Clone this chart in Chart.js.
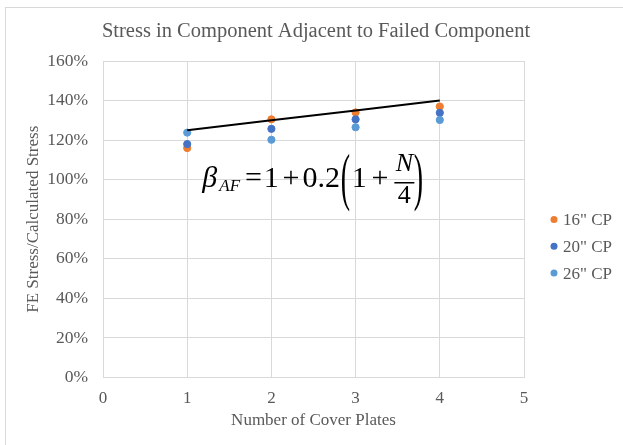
<!DOCTYPE html>
<html lang="en">

<head>
    <meta charset="UTF-8">
    <title>Stress in Component Adjacent to Failed Component</title>
    <style>
        body {
            margin: 0;
            padding: 0;
            background-color: #fff;
        }

        #wrap {
            width: 623px;
            height: 445px;
        }
    </style>
</head>

<body>
    <div id="wrap">
        <canvas id="stressChart" width="623" height="445"></canvas>
    </div>

    <script src="https://cdn.jsdelivr.net/npm/chart.js"></script>
    <script>
        // Datos
        const chartTitle = 'Stress in Component Adjacent to Failed Component';
        const coverPlates = [1, 2, 3, 4];
        const seriesNames = ['16" CP', '20" CP', '26" CP'];
        const cp16 = [116, 130.5, 134, 137];
        const cp20 = [118, 125.7, 130.5, 133.8];
        const cp26 = [123.8, 120.2, 126.5, 130.2];
        const equationLine = [125, 130, 135, 140];
        const xTicks = [0, 1, 2, 3, 4, 5];
        const yTicks = [0, 20, 40, 60, 80, 100, 120, 140, 160];

        const colors = ['#ED7D31', '#4472C4', '#5B9BD5'];
        const grey = '#595959';
        const serif = '"Liberation Serif", "Times New Roman", serif';

        const toPoints = (vals) => coverPlates.map((n, i) => ({ x: n, y: vals[i] }));

        // Fondo, borde exterior, titulo, leyenda y ecuacion
        const extras = {
            id: 'extras',
            beforeDraw(chart) {
                const c = chart.ctx;
                c.save();
                c.fillStyle = '#fff';
                c.fillRect(0, 0, chart.width, chart.height);
                c.strokeStyle = '#D9D9D9';
                c.lineWidth = 1;
                c.strokeRect(5.5, 7.5, chart.width + 20, chart.height + 20);
                c.restore();
            },
            afterDraw(chart) {
                const c = chart.ctx;
                const area = chart.chartArea;
                c.save();

                // titulo (centrado sobre todo el grafico)
                c.fillStyle = grey;
                c.font = '20.5px ' + serif;
                c.textAlign = 'center';
                c.textBaseline = 'middle';
                c.fillText(chartTitle, 316, 32);

                // leyenda
                const mid = (area.top + area.bottom) / 2 + 27;
                const scatter = chart.data.datasets.filter(d => d.type === 'scatter');
                scatter.forEach((d, i) => {
                    const y = mid + (i - 1) * 26.8;
                    c.fillStyle = d.backgroundColor;
                    c.beginPath();
                    c.arc(area.right + 30, y, 3.5, 0, Math.PI * 2);
                    c.fill();
                    c.fillStyle = grey;
                    c.font = '17px ' + serif;
                    c.textAlign = 'left';
                    c.textBaseline = 'middle';
                    c.fillText(d.label, area.right + 39, y + 1);
                });

                // ecuacion
                const sx = chart.scales.x, sy = chart.scales.y;
                const x0 = sx.getPixelForValue(1.18);
                const base = sy.getPixelForValue(96.3);
                c.fillStyle = '#000';
                c.textBaseline = 'alphabetic';
                c.textAlign = 'left';
                c.font = 'italic 30px ' + serif;
                c.fillText('\u03B2', x0, base);
                c.font = 'italic 17px ' + serif;
                c.fillText('AF', x0 + 17, base + 4);
                c.textAlign = 'center';
                c.font = '30px ' + serif;
                c.fillText('=', x0 + 51, base);
                c.fillText('1', x0 + 69, base);
                c.fillText('+', x0 + 88.5, base);
                c.fillText('0.2', x0 + 119, base);
                c.fillText('1', x0 + 157, base);
                c.fillText('+', x0 + 177.5, base);
                c.font = 'italic 26px ' + serif;
                c.fillText('N', x0 + 202, base - 16);
                c.font = '26px ' + serif;
                c.fillText('4', x0 + 202, base + 16);
                c.fillRect(x0 + 192, base - 5, 20, 1.5);
                // parentesis grandes
                [['(', 143], [')', 216]].forEach(([p, dx]) => {
                    c.save();
                    c.translate(x0 + dx, base - 6);
                    c.scale(1, 2.3);
                    c.font = '28px ' + serif;
                    c.textBaseline = 'middle';
                    c.fillText(p, 0, 0);
                    c.restore();
                });
                c.restore();
            }
        };

        const ctx = document.getElementById('stressChart').getContext('2d');
        const stressChart = new Chart(ctx, {
            data: {
                datasets: [
                    {
                        type: 'line',
                        label: 'beta',
                        data: toPoints(equationLine),
                        borderColor: '#000',
                        borderWidth: 2,
                        pointRadius: 0,
                        fill: false,
                        order: 0
                    },
                    {
                        type: 'scatter',
                        label: seriesNames[0],
                        data: toPoints(cp16),
                        backgroundColor: colors[0],
                        borderColor: colors[0],
                        pointRadius: 3.6,
                        order: 3
                    },
                    {
                        type: 'scatter',
                        label: seriesNames[1],
                        data: toPoints(cp20),
                        backgroundColor: colors[1],
                        borderColor: colors[1],
                        pointRadius: 3.6,
                        order: 2
                    },
                    {
                        type: 'scatter',
                        label: seriesNames[2],
                        data: toPoints(cp26),
                        backgroundColor: colors[2],
                        borderColor: colors[2],
                        pointRadius: 3.6,
                        order: 1
                    }
                ]
            },
            options: {
                responsive: false,
                animation: false,
                layout: {
                    padding: { left: 23, right: 99, top: 61, bottom: 10 }
                },
                plugins: {
                    legend: { display: false },
                    tooltip: { enabled: false },
                    title: { display: false }
                },
                scales: {
                    x: {
                        type: 'linear',
                        min: xTicks[0],
                        max: xTicks[xTicks.length - 1],
                        afterBuildTicks: (axis) => { axis.ticks = xTicks.map(v => ({ value: v })); },
                        afterFit: (axis) => { axis.height = 57.5; },
                        grid: { color: '#D9D9D9', drawTicks: false },
                        border: { color: '#D9D9D9' },
                        ticks: {
                            color: grey,
                            padding: 11,
                            font: { family: serif, size: 17 }
                        },
                        title: {
                            display: true,
                            text: 'Number of Cover Plates',
                            color: grey,
                            font: { family: serif, size: 17 },
                            padding: { top: 3, bottom: 4 }
                        }
                    },
                    y: {
                        min: yTicks[0],
                        max: yTicks[yTicks.length - 1],
                        afterBuildTicks: (axis) => { axis.ticks = yTicks.map(v => ({ value: v })); },
                        afterFit: (axis) => { axis.width = 80; },
                        grid: { color: '#D9D9D9', drawTicks: false },
                        border: { color: '#D9D9D9' },
                        ticks: {
                            color: grey,
                            padding: 15,
                            font: { family: serif, size: 17.5 },
                            callback: (v) => v + '%'
                        },
                        title: {
                            display: true,
                            text: 'FE Stress/Calculated Stress',
                            color: grey,
                            font: { family: serif, size: 17 },
                            padding: { top: 0, bottom: 8 }
                        }
                    }
                }
            },
            plugins: [extras]
        });
    </script>
</body>

</html>
